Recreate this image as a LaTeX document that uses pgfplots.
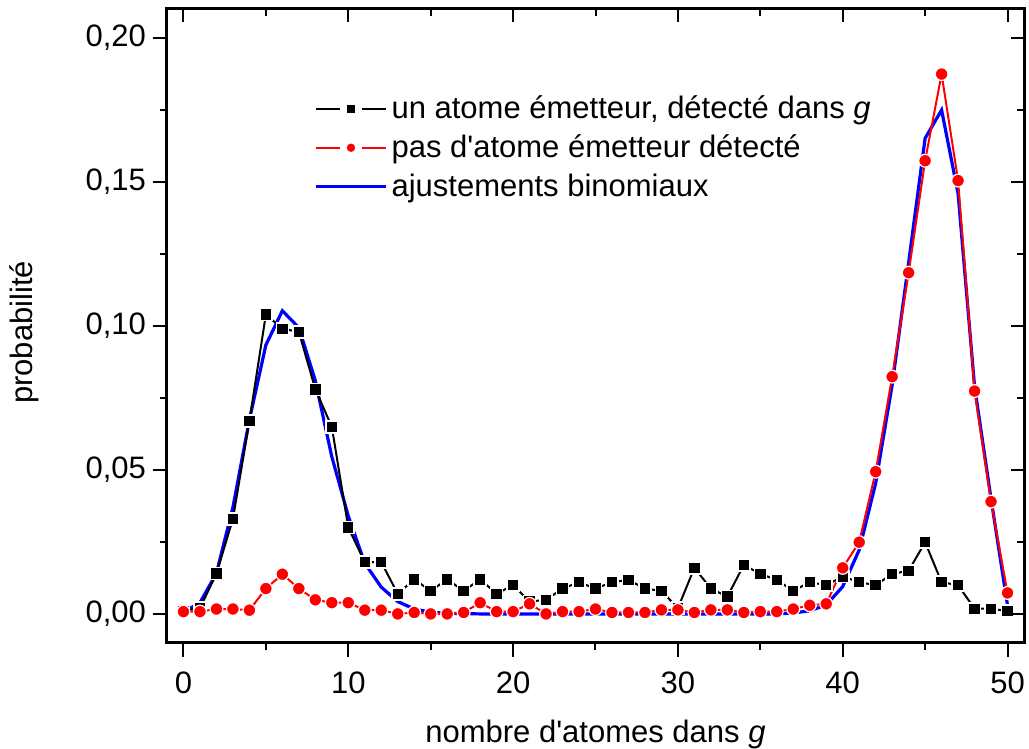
\documentclass[border=0pt]{standalone}
\usepackage{fontspec}
\setmainfont{Liberation Sans}
\usepackage{pgfplots}
\pgfplotsset{compat=1.18}

\pgfplotstableread{
x y
0 0.001
1 0.002
2 0.014
3 0.033
4 0.067
5 0.104
6 0.099
7 0.098
8 0.078
9 0.065
10 0.030
11 0.018
12 0.018
13 0.007
14 0.012
15 0.008
16 0.012
17 0.008
18 0.012
19 0.007
20 0.010
21 0.0043
22 0.0049
23 0.0088
24 0.011
25 0.0088
26 0.011
27 0.0118
28 0.0088
29 0.008
30 0.002
31 0.016
32 0.0088
33 0.006
34 0.017
35 0.0139
36 0.0118
37 0.008
38 0.011
39 0.010
40 0.013
41 0.011
42 0.010
43 0.0139
44 0.015
45 0.0249
46 0.011
47 0.010
48 0.0018
49 0.0018
50 0.001
}\blackdata

\pgfplotstableread{
x y
0 0.0008
1 0.0008
2 0.0017
3 0.0017
4 0.0013
5 0.0088
6 0.0138
7 0.0088
8 0.0049
9 0.0039
10 0.0039
11 0.0013
12 0.0013
13 0.0000
14 0.0005
15 0.0000
16 0.0000
17 0.0005
18 0.0039
19 0.0008
20 0.0008
21 0.0035
22 0.0000
23 0.0008
24 0.0008
25 0.0017
26 0.0005
27 0.0005
28 0.0005
29 0.0014
30 0.0014
31 0.0005
32 0.0014
33 0.0014
34 0.0005
35 0.0008
36 0.0008
37 0.0017
38 0.0030
39 0.0035
40 0.0160
41 0.0249
42 0.0494
43 0.0824
44 0.1185
45 0.1574
46 0.1875
47 0.1505
48 0.0774
49 0.0390
50 0.0073
}\reddata

\pgfplotstableread{
x y
0 0.0006
1 0.0039
2 0.0141
3 0.0370
4 0.0674
5 0.0934
6 0.1053
7 0.0994
8 0.0810
9 0.0546
10 0.0340
11 0.0176
12 0.0093
13 0.0043
14 0.0017
15 0.0006
16 0.0002
17 0.0001
18 0
19 0
20 0
21 0
22 0
23 0
24 0
25 0
26 0
27 0
28 0
29 0
30 0
31 0
32 0
33 0
34 0
35 0
36 0
37 0.0003
38 0.0011
39 0.0031
40 0.0095
41 0.0222
42 0.0454
43 0.0795
44 0.1220
45 0.1652
46 0.1750
47 0.1460
48 0.0790
49 0.0400
50 0.0030
}\bluedata

\begin{document}
\begin{tikzpicture}[font=\fontsize{15.5}{18.6}\selectfont]
\useasboundingbox (-83.5pt,-53pt) rectangle (431pt,321.5pt);
\begin{axis}[
  at={(0pt,0pt)}, anchor=south west,
  scale only axis, width=428.5pt, height=317pt,
  xmin=-1, xmax=51, ymin=-0.0101, ymax=0.2101,
  xtick={0,10,20,30,40,50}, minor x tick num=1,
  ytick={0,0.05,0.10,0.15,0.20}, minor y tick num=1,
  xtick pos=left, ytick pos=left, tick align=outside,
  major tick length=7pt, minor tick length=3.5pt,
  every tick/.style={black, line width=1pt},
  axis line style={line width=1.5pt},
  /pgf/number format/assume math mode=true,
  yticklabel style={/pgf/number format/.cd, fixed, fixed zerofill, precision=2, use comma},
  tick label style={font=\fontsize{15.5}{18.6}\selectfont},
  xticklabel style={yshift=-4pt},
  scaled y ticks=false,
  xlabel={nombre d\textquotesingle atomes dans \textit{g}},
  ylabel={probabilité},
  xlabel style={at={(axis description cs:0.5,-0.1575)}, anchor=base, font=\fontsize{15.5}{18.6}\selectfont},
  ylabel style={at={(axis description cs:-0.1564,0.49)}, anchor=base, font=\fontsize{15.5}{18.6}\selectfont},
  legend style={at={(axis description cs:0.1645,0.876)}, anchor=north west, draw=none, fill=none,
    font=\fontsize{15.5}{18.6}\selectfont, row sep=2.5pt, cells={anchor=west}},
  legend cell align=left,
]
\addplot[blue, line width=1.6pt, forget plot] table[x=x,y=y]{\bluedata};
\addplot[black, line width=1pt, mark=square*, mark size=3pt,
  mark options={fill=black, draw=white, line width=0.8pt},
  legend image code/.code={
    \draw[mark=none] (0pt,0pt) -- (12pt,0pt);
    \draw[mark=none] (23pt,0pt) -- (35pt,0pt);
    \draw plot[only marks, mark size=2.3pt] coordinates {(17.5pt,0pt)};
  }] table[x=x,y=y]{\blackdata};
\addlegendentry{un atome émetteur, détecté dans \textit{g}}
\addplot[red, line width=1pt, mark=*, mark size=3.2pt,
  mark options={fill=red, draw=white, line width=0.6pt},
  legend image code/.code={
    \draw[mark=none] (0pt,0pt) -- (12pt,0pt);
    \draw[mark=none] (23pt,0pt) -- (35pt,0pt);
    \draw plot[only marks, mark size=2.5pt] coordinates {(17.5pt,0pt)};
  }] table[x=x,y=y]{\reddata};
\addlegendentry{pas d\textquotesingle atome émetteur détecté}
\addlegendimage{blue, line width=1.6pt, legend image code/.code={\draw (0pt,0pt) -- (35pt,0pt);}}
\addlegendentry{ajustements binomiaux}
\end{axis}
\begin{axis}[
  at={(0pt,0pt)}, anchor=south west,
  scale only axis, width=428.5pt, height=317pt,
  xmin=-1, xmax=51, ymin=-0.0101, ymax=0.2101,
  xtick={0,10,20,30,40,50}, minor x tick num=1,
  ytick={0,0.05,0.10,0.15,0.20}, minor y tick num=1,
  xtick pos=right, ytick pos=right, tick align=inside,
  major tick length=6.5pt, minor tick length=3.5pt,
  every tick/.style={black, line width=1pt},
  axis line style={line width=1.5pt},
  xticklabels={}, yticklabels={},
]
\end{axis}
\end{tikzpicture}
\end{document}
